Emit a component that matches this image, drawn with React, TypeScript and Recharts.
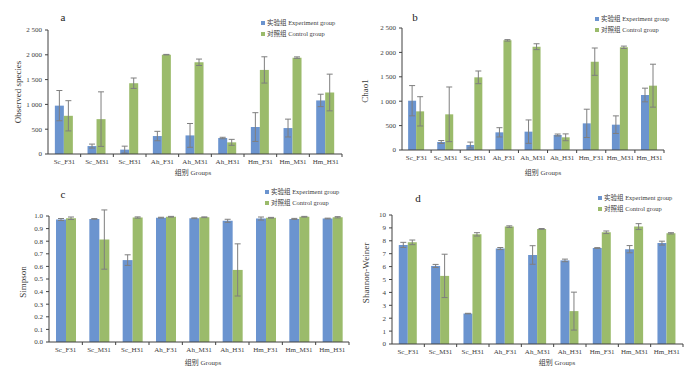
import React from 'react';
import { BarChart, Bar, XAxis, YAxis, ErrorBar, Legend } from 'recharts';

const categories = ['Sc_F31', 'Sc_M31', 'Sc_H31', 'Ah_F31', 'Ah_M31', 'Ah_H31', 'Hm_F31', 'Hm_M31', 'Hm_H31'];

// a: Observed species
const obsExp = [975, 160, 88, 362, 375, 322, 543, 523, 1080];
const obsExpErr = [305, 40, 70, 95, 240, 15, 290, 180, 125];
const obsCtl = [770, 703, 1427, 2003, 1849, 235, 1695, 1943, 1240];
const obsCtlErr = [305, 550, 105, 5, 65, 60, 265, 15, 370];

// b: Chao1
const chaoExp = [1010, 164, 102, 362, 376, 307, 546, 519, 1127];
const chaoExpErr = [310, 30, 60, 95, 240, 20, 290, 180, 140];
const chaoCtl = [792, 731, 1489, 2247, 2117, 260, 1810, 2104, 1318];
const chaoCtlErr = [300, 560, 130, 15, 60, 70, 280, 25, 440];

// c: Simpson
const simExp = [0.972, 0.977, 0.65, 0.987, 0.982, 0.962, 0.98, 0.977, 0.98];
const simExpErr = [0.008, 0.002, 0.042, 0.003, 0.003, 0.012, 0.012, 0.004, 0.003];
const simCtl = [0.982, 0.813, 0.988, 0.994, 0.99, 0.572, 0.986, 0.994, 0.99];
const simCtlErr = [0.01, 0.235, 0.005, 0.003, 0.003, 0.207, 0.003, 0.003, 0.005];

// d: Shannon-Weiner
const shExp = [7.68, 6.05, 2.36, 7.4, 6.9, 6.48, 7.44, 7.35, 7.82];
const shExpErr = [0.2, 0.12, 0.02, 0.08, 0.72, 0.1, 0.03, 0.28, 0.15];
const shCtl = [7.88, 5.28, 8.5, 9.1, 8.92, 2.55, 8.66, 9.1, 8.58];
const shCtlErr = [0.18, 1.68, 0.13, 0.06, 0.03, 1.47, 0.1, 0.23, 0.05];

const ticksCount = [0, 500, 1000, 1500, 2000, 2500];
const ticksSimpson = [0, 0.1, 0.2, 0.3, 0.4, 0.5, 0.6, 0.7, 0.8, 0.9, 1.0];
const ticksShannon = [0, 1, 2, 3, 4, 5, 6, 7, 8, 9, 10];

const expName = '实验组 Experiment group';
const ctlName = '对照组 Control group';

const BLUE = '#6b94cf';
const GREEN = '#9bbb6b';
const ERR = '#7f7f7f';
const AXIS = '#404040';
const FONT = "'Liberation Serif', 'Noto Sans CJK SC', serif";

const build = (exp: number[], expErr: number[], ctl: number[], ctlErr: number[]) =>
    categories.map((name, i) => ({ name, exp: exp[i], expErr: expErr[i], ctl: ctl[i], ctlErr: ctlErr[i] }));

const fmtCount = (v: number) =>
    v >= 1000 ? `${Math.floor(v / 1000)} ${String(v % 1000).padStart(3, '0')}` : String(v);

type PanelProps = {
    letter: string;
    yTitle: string;
    data: any[];
    ticks: number[];
    fmt: (v: number) => string;
    left: number;
    top: number;
    plot: [number, number, number, number]; // left, right, top, bottom inside panel
    letterPos: [number, number];
    legendPos: [number, number];
    yTitlePos: [number, number];
    xTitlePos: [number, number];
};

const W = 350;
const H = 185;

function LegendBox() {
    const row = (color: string, text: string) => (
        <div style={{ display: 'flex', alignItems: 'center', height: 11 }}>
            <span style={{ width: 4, height: 4, background: color, marginRight: 2 }} />
            <span>{text}</span>
        </div>
    );
    return (
        <div style={{ fontFamily: FONT, fontSize: 6.5, color: '#404040', lineHeight: '11px', whiteSpace: 'nowrap' }}>
            {row(BLUE, expName)}
            {row(GREEN, ctlName)}
        </div>
    );
}

function Panel(p: PanelProps) {
    const [pl, pr, pt, pb] = p.plot;
    const band = (pr - pl) / categories.length;
    const CatTick = (props: any) => {
        const { x, y, payload } = props;
        return (
            <g>
                <line x1={x + band / 2} y1={y} x2={x + band / 2} y2={y + 3} stroke={AXIS} strokeWidth={1} />
                <text x={x} y={y + 5} dy="0.71em" textAnchor="middle" fontSize={7} fill="#404040" fontFamily={FONT}>
                    {payload.value}
                </text>
            </g>
        );
    };
    return (
        <div style={{ position: 'absolute', left: p.left, top: p.top, width: W, height: H }}>
            <BarChart
                width={W}
                height={H}
                data={p.data}
                margin={{ top: pt, right: W - pr, bottom: 0, left: 0 }}
                barCategoryGap="21%"
                barGap={0}
            >
                <XAxis
                    dataKey="name"
                    height={H - pb}
                    interval={0}
                    tickSize={0}
                    tickMargin={0}
                    tickLine={false}
                    stroke={AXIS}
                    tick={<CatTick />}
                />
                <YAxis
                    width={pl}
                    domain={[p.ticks[0], p.ticks[p.ticks.length - 1]]}
                    ticks={p.ticks}
                    interval={0}
                    allowDataOverflow
                    tickSize={3}
                    tickMargin={3}
                    stroke={AXIS}
                    tick={{ fontSize: 7, fill: '#404040', fontFamily: FONT }}
                    tickFormatter={p.fmt}
                />
                <Legend
                    layout="vertical"
                    align="center"
                    verticalAlign="middle"
                    wrapperStyle={{ position: 'absolute', left: p.legendPos[0], top: p.legendPos[1], width: 'auto' }}
                    content={() => <LegendBox />}
                />
                <Bar dataKey="exp" name={expName} fill={BLUE} isAnimationActive={false}>
                    <ErrorBar dataKey="expErr" width={3} stroke={ERR} strokeWidth={1} />
                </Bar>
                <Bar dataKey="ctl" name={ctlName} fill={GREEN} isAnimationActive={false}>
                    <ErrorBar dataKey="ctlErr" width={3} stroke={ERR} strokeWidth={1} />
                </Bar>
            </BarChart>
            <svg width={W} height={H} style={{ position: 'absolute', left: 0, top: 0, pointerEvents: 'none' }}>
                <text x={p.letterPos[0]} y={p.letterPos[1]} fontSize={11} fontFamily={FONT} textAnchor="middle" dominantBaseline="central" fill="#222">
                    {p.letter}
                </text>
                <text
                    x={p.yTitlePos[0]}
                    y={p.yTitlePos[1]}
                    fontSize={9}
                    fontFamily={FONT}
                    textAnchor="middle"
                    dominantBaseline="central"
                    fill="#404040"
                    transform={`rotate(-90 ${p.yTitlePos[0]} ${p.yTitlePos[1]})`}
                >
                    {p.yTitle}
                </text>
                <text x={p.xTitlePos[0]} y={p.xTitlePos[1]} fontSize={7} fontFamily={FONT} textAnchor="middle" dominantBaseline="central" fill="#404040">
                    组别 Groups
                </text>
            </svg>
        </div>
    );
}

export default function App() {
    return (
        <div style={{ position: 'absolute', left: 0, top: 0, width: 700, height: 371, background: '#fff', overflow: 'hidden' }}>
            <Panel
                letter="a"
                yTitle="Observed species"
                data={build(obsExp, obsExpErr, obsCtl, obsCtlErr)}
                ticks={ticksCount}
                fmt={fmtCount}
                left={0}
                top={0}
                plot={[48, 342, 30, 154]}
                letterPos={[63, 17]}
                legendPos={[261, 17]}
                yTitlePos={[18, 92]}
                xTitlePos={[193, 173]}
            />
            <Panel
                letter="b"
                yTitle="Chao1"
                data={build(chaoExp, chaoExpErr, chaoCtl, chaoCtlErr)}
                ticks={ticksCount}
                fmt={fmtCount}
                left={350}
                top={0}
                plot={[52, 314, 28, 150]}
                letterPos={[65, 17]}
                legendPos={[245, 13]}
                yTitlePos={[15, 91]}
                xTitlePos={[193, 173]}
            />
            <Panel
                letter="c"
                yTitle="Simpson"
                data={build(simExp, simExpErr, simCtl, simCtlErr)}
                ticks={ticksSimpson}
                fmt={(v: number) => v.toFixed(1)}
                left={0}
                top={185}
                plot={[49, 349, 31, 157]}
                letterPos={[63, 9]}
                legendPos={[265, 1]}
                yTitlePos={[23, 97]}
                xTitlePos={[203, 178]}
            />
            <Panel
                letter="d"
                yTitle="Shannon-Weiner"
                data={build(shExp, shExpErr, shCtl, shCtlErr)}
                ticks={ticksShannon}
                fmt={(v: number) => String(v)}
                left={350}
                top={185}
                plot={[42, 333, 30, 159]}
                letterPos={[68, 13]}
                legendPos={[248, 7]}
                yTitlePos={[16, 88]}
                xTitlePos={[207, 178]}
            />
        </div>
    );
}
